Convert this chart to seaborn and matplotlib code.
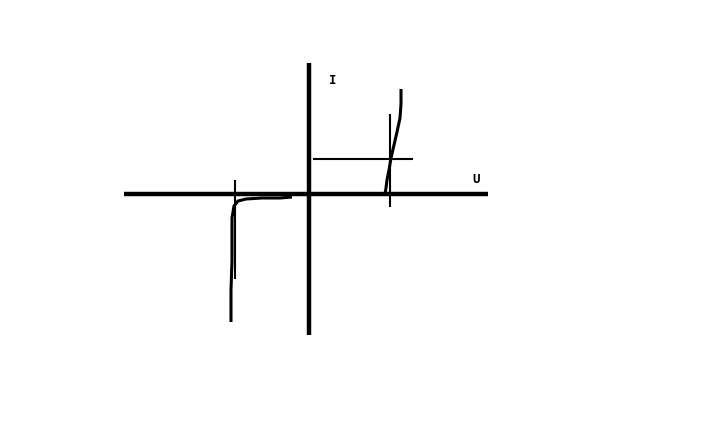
import numpy as np
import pandas as pd
import seaborn as sns
import matplotlib.pyplot as plt

# sketch coordinates in pixels (y grows downward)
axis_x = [124, 488]
axis_y = [63, 335]
origin = (309, 194)

# forward branch (right of origin)
fwd_x = [385, 386, 387, 389, 391, 394, 397, 400, 401, 401]
fwd_y = [194, 188, 180, 170, 158, 145, 132, 118, 104, 89]

# reverse branch (left of origin)
rev_x = [292, 280, 262, 246, 238, 234, 232, 232, 231, 231]
rev_y = [197, 198, 198, 199, 201, 206, 218, 260, 290, 322]

# helper marks
vmark_r = ([390, 390], [114, 207])
hmark_r = ([313, 413], [159, 159])
vmark_l = ([235, 235], [180, 279])

sns.set_style("white")
fig = plt.figure(figsize=(7.26, 4.36), dpi=100)
ax = fig.add_axes([0, 0, 1, 1])

def seg(xs, ys, lw):
    df = pd.DataFrame({"x": xs, "y": ys})
    sns.lineplot(data=df, x="x", y="y", sort=False, estimator=None,
                 errorbar=None, color="black", linewidth=lw, ax=ax,
                 solid_capstyle="butt")

seg(axis_x, [origin[1]] * 2, 3.2)
seg([origin[0]] * 2, axis_y, 3.2)
seg(fwd_x, fwd_y, 2.2)
seg(rev_x, rev_y, 2.2)
seg(*vmark_r, 1.5)
seg(*hmark_r, 1.5)
seg(*vmark_l, 1.5)

ax.text(333, 81, "I", fontsize=9, fontweight="bold", family="DejaVu Sans Mono",
        color="black", ha="center", va="center")
ax.text(476, 179, "U", fontsize=9, fontweight="bold", family="DejaVu Sans Mono",
        color="black", ha="center", va="center")

ax.set_xlim(0, 726)
ax.set_ylim(436, 0)
ax.axis("off")
fig.savefig("out.png", dpi=100, facecolor="white")
